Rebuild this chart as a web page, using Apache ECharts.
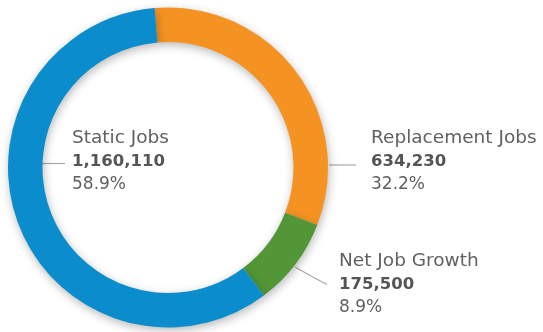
<!DOCTYPE html>
<html>
<head>
<meta charset="utf-8">
<style>
  html, body { margin: 0; padding: 0; background: #ffffff; }
  #chart { width: 543px; height: 332px; }
</style>
<script src="https://cdn.jsdelivr.net/npm/echarts@6/dist/echarts.min.js"></script>
</head>
<body>
<div id="chart"></div>
<script>
// Job openings broken down by source
const categories = ['Replacement Jobs', 'Net Job Growth', 'Static Jobs'];
const jobCounts = [634230, 175500, 1160110];
const sliceColors = ['#f59322', '#529637', '#0b8dcd'];

// Label anchors (top-left of each text block) and leader line points
const labelAnchors = [
  { x: 371, y: 127, line: [[329, 165], [342, 165], [356, 165]] },
  { x: 339, y: 250, line: [[295, 267], [311, 276], [327, 284.5]] },
  { x: 72,  y: 127, line: [[42, 163.5], [53, 163.5], [65, 163.5]] }
];

const pieData = categories.map((name, i) => ({
  name: name,
  value: jobCounts[i],
  itemStyle: { color: sliceColors[i] }
}));

const chart = echarts.init(document.getElementById('chart'), null, { renderer: 'canvas' });

chart.setOption({
  animation: false,
  backgroundColor: '#ffffff',
  series: [{
    type: 'pie',
    center: [168, 167.5],
    radius: [125.5, 160],
    startAngle: 94.8,
    clockwise: true,
    percentPrecision: 1,
    avoidLabelOverlap: false,
    itemStyle: {
      borderWidth: 0,
      shadowBlur: 10,
      shadowColor: 'rgba(0,0,0,0.28)',
      shadowOffsetX: 1,
      shadowOffsetY: 3
    },
    label: {
      show: true,
      position: 'outside',
      fontFamily: 'DejaVu Sans',
      formatter: p => '{name|' + p.name + '}\n{val|' +
        echarts.format.addCommas(p.value) + '}\n{pct|' + p.percent.toFixed(1) + '%}',
      rich: {
        name: { fontSize: 18.5, lineHeight: 23, color: '#616161', fontFamily: 'DejaVu Sans' },
        val: { fontSize: 16.5, lineHeight: 23, color: '#555555', fontWeight: 'bold', fontFamily: 'DejaVu Sans' },
        pct: { fontSize: 17, lineHeight: 23, color: '#616161', fontFamily: 'DejaVu Sans' }
      }
    },
    labelLine: {
      show: true,
      lineStyle: { color: '#a8a8a8', width: 1.2 }
    },
    labelLayout: function (params) {
      const a = labelAnchors[params.dataIndex];
      return {
        x: a.x,
        y: a.y,
        align: 'left',
        verticalAlign: 'top',
        labelLinePoints: a.line
      };
    },
    data: pieData
  }]
});
</script>
</body>
</html>
